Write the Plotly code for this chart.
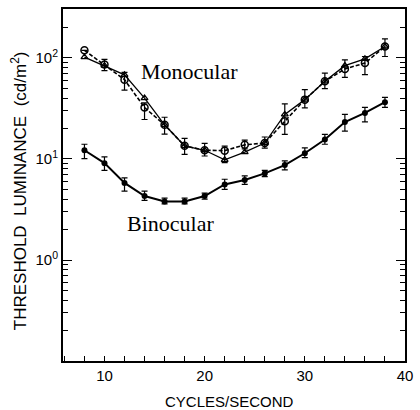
import plotly.graph_objects as go

# ---- data ----
freq = [8, 10, 12, 14, 16, 18, 20, 22, 24, 26, 28, 30, 32, 34, 36, 38]

binocular = [12.2, 9.1, 5.8, 4.3, 3.8, 3.8, 4.3, 5.6, 6.2, 7.2, 8.7, 11.4, 15.6, 23.2, 28.6, 36.5]
bin_err_hi = [14.0, 10.5, 6.5, 4.8, 4.1, 4.1, 4.6, 6.3, 6.8, 7.7, 9.6, 12.9, 17.5, 27.6, 32.5, 40.8]
bin_err_lo = [10.1, 7.7, 4.8, 3.9, 3.6, 3.6, 4.0, 5.0, 5.6, 6.7, 7.8, 10.3, 14.0, 18.9, 23.3, 32.5]

mono_a = [102, 84, 68, 40, 21.8, 13.5, 12.2, 9.8, 11.7, 14.4, 27.6, 38.7, 58.7, 84, 98, 130]
mono_b = [119, 86, 61, 32.3, 21.8, 13.5, 12.2, 12.1, 13.8, 14.4, 23.7, 38.7, 58.7, 78, 89, 130]
mono_err_hi = [119, 97, 72, 36, 25.9, 16.0, 14.3, 13.4, 15.4, 16.5, 35.1, 48.6, 70.8, 96, 103.5, 154.6]
mono_err_lo = [119, 75, 48, 24.6, 17.6, 11.1, 10.7, 9.2, 12.6, 12.8, 17.5, 32.0, 49.7, 64.3, 68.3, 103.5]

y_tick_vals = [1, 10, 100]
y_tick_text = ["10<sup>0</sup>", "10<sup>1</sup>", "10<sup>2</sup>"]
y_minor_vals = [m * 10 ** e for e in (-1, 0, 1, 2) for m in range(2, 10) if m * 10 ** e < 300]

fig = go.Figure()

fig.add_trace(go.Scatter(
    x=freq, y=mono_a, mode="lines+markers",
    line=dict(color="black", width=1.3),
    marker=dict(symbol="triangle-up-open", size=6, color="black", line=dict(width=1.3)),
    showlegend=False,
))
fig.add_trace(go.Scatter(
    x=freq, y=mono_b, mode="lines+markers",
    line=dict(color="black", width=1.6, dash="4px,2px"),
    marker=dict(symbol="circle-open", size=7, color="black", line=dict(width=1.5)),
    error_y=dict(type="data", symmetric=False,
                 array=[h - v for h, v in zip(mono_err_hi, mono_b)],
                 arrayminus=[v - l for v, l in zip(mono_b, mono_err_lo)],
                 color="black", thickness=1.2, width=3),
    showlegend=False,
))
fig.add_trace(go.Scatter(
    x=freq, y=binocular, mode="lines+markers",
    line=dict(color="black", width=2),
    marker=dict(symbol="circle", size=6, color="black"),
    error_y=dict(type="data", symmetric=False,
                 array=[h - v for h, v in zip(bin_err_hi, binocular)],
                 arrayminus=[v - l for v, l in zip(binocular, bin_err_lo)],
                 color="black", thickness=1.2, width=3),
    showlegend=False,
))

fig.add_annotation(x=18.47, y=1.867, yref="y", text="Monocular", showarrow=False,
                   font=dict(family="Liberation Serif", size=22, color="black"))
fig.add_annotation(x=16.57, y=0.36, yref="y", text="Binocular", showarrow=False,
                   font=dict(family="Liberation Serif", size=22, color="black"))
fig.add_annotation(xref="paper", yref="paper", x=0.486, y=-0.115, xanchor="center", yanchor="middle",
                   text="CYCLES/SECOND",
                   showarrow=False, font=dict(family="Liberation Sans", size=15, color="black"))
fig.add_annotation(xref="paper", yref="paper", x=-0.128, y=0.483, xanchor="center", yanchor="middle",
                   text="THRESHOLD  LUMINANCE  (cd/m<sup>2</sup>)", textangle=-90,
                   showarrow=False, font=dict(family="Liberation Sans", size=17, color="black"))

fig.update_xaxes(
    range=[5.86, 40], tickmode="linear", tick0=0, dtick=10,
    ticks="inside", ticklen=5, tickwidth=1.2, tickcolor="black",
    minor=dict(ticks="inside", ticklen=5, tickwidth=1.2, tickcolor="black", dtick=2, tick0=0, showgrid=False),
    showline=True, linecolor="black", linewidth=2, mirror=True,
    showgrid=False, zeroline=False,
    tickfont=dict(family="Liberation Sans", size=15, color="black"),
)
# minor ticks axis (carries the data)
fig.update_yaxes(
    type="log", range=[-1, 2.485], tickvals=y_minor_vals, showticklabels=False,
    ticks="inside", ticklen=5, tickwidth=1, tickcolor="black",
    showline=True, linecolor="black", linewidth=2, mirror="ticks",
    showgrid=False, zeroline=False,
)
# major ticks and labels axis
fig.update_layout(
    yaxis2=dict(
        type="log", range=[-1, 2.485], overlaying="y", side="left",
        tickvals=y_tick_vals, ticktext=y_tick_text,
        ticks="inside", ticklen=9, tickwidth=1.2, tickcolor="black",
        showline=True, linecolor="black", linewidth=2, mirror="ticks",
        showgrid=False, zeroline=False,
        tickfont=dict(family="Liberation Sans", size=15, color="black"),
    )
)
fig.add_trace(go.Scatter(x=[None], y=[None], yaxis="y2", showlegend=False, hoverinfo="skip"))

fig.update_layout(
    width=420, height=410,
    margin=dict(l=63, r=7, t=7, b=49),
    paper_bgcolor="white", plot_bgcolor="white",
)

fig.write_html("out.html")
